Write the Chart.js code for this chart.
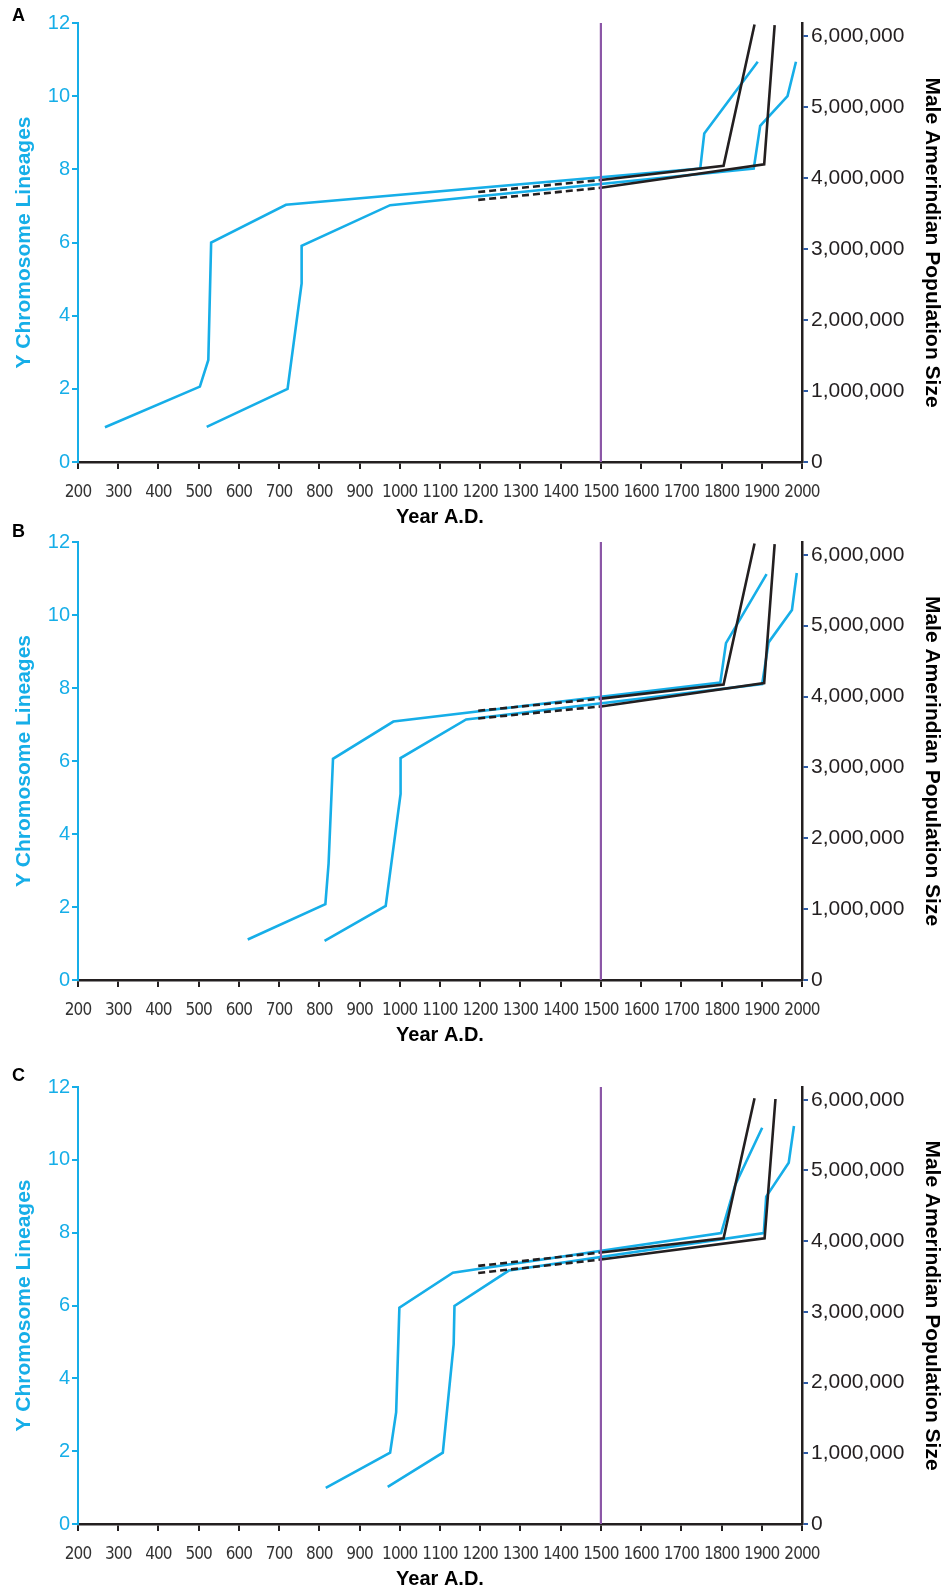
<!DOCTYPE html>
<html>
<head>
<meta charset="utf-8">
<script src="https://cdn.jsdelivr.net/npm/chart.js@4.4.1/dist/chart.umd.min.js"></script>
<style>
  html, body { margin: 0; padding: 0; background: #fff; overflow: hidden; }
  body { position: relative; width: 942px; height: 1591px; }
  canvas { position: absolute; left: 0; }
</style>
</head>
<body>
<canvas id="panelA" width="942" height="530" style="top:0px"></canvas>
<canvas id="panelB" width="942" height="530" style="top:518px"></canvas>
<canvas id="panelC" width="942" height="530" style="top:1062px"></canvas>
<script>
// year of contact, drawn as the purple line
const contactYear = 1500;

// tick values on the right axis
const popTicks = [0, 1000000, 2000000, 3000000, 4000000, 5000000, 6000000];

// [year, lineages] for the two Y chromosome curves, [year, males] for the population curves
const aLineage1 = [[267, 0.95], [503, 2.06], [524, 2.79], [531, 6.0], [717, 7.03], [1747, 8.02], [1757, 8.98], [1890, 10.94]];
const aLineage2 = [[520, 0.96], [721, 2.0], [756, 4.88], [756, 5.91], [976, 7.02], [1880, 8.02], [1896, 9.19], [1964, 10.0], [1985, 10.94]];
const aPop1 = [[1195, 3800000], [1500, 3970000], [1805, 4170000], [1882, 6160000]];
const aPop2 = [[1195, 3690000], [1500, 3860000], [1906, 4190000], [1932, 6150000]];

const bLineage1 = [[622, 1.11], [815, 2.08], [823, 3.19], [834, 6.06], [984, 7.08], [1797, 8.15], [1811, 9.23], [1912, 11.12]];
const bLineage2 = [[813, 1.07], [965, 2.03], [1002, 5.1], [1002, 6.08], [1165, 7.14], [1901, 8.11], [1917, 9.25], [1975, 10.14], [1987, 11.15]];
const bPop1 = [[1195, 3800000], [1500, 3970000], [1805, 4170000], [1882, 6160000]];
const bPop2 = [[1195, 3690000], [1500, 3860000], [1906, 4190000], [1932, 6150000]];

const cLineage1 = [[816, 0.99], [976, 1.96], [991, 3.07], [999, 5.94], [1132, 6.9], [1799, 7.99], [1834, 9.31], [1901, 10.88]];
const cLineage2 = [[970, 1.02], [1107, 1.96], [1134, 4.94], [1136, 5.99], [1271, 6.96], [1905, 7.99], [1911, 8.99], [1967, 9.92], [1980, 10.93]];
const cPop1 = [[1195, 3650000], [1500, 3840000], [1805, 4040000], [1882, 6020000]];
const cPop2 = [[1195, 3550000], [1500, 3740000], [1907, 4040000], [1934, 6010000]];

const CYAN = '#16aee8';
const BLACK = '#231f20';
const PURPLE = '#8b56a6';
const TICK_BLUE = '#2d5ba8';
const NARROW = '"Liberation Sans Narrow", "Arial Narrow", "DejaVu Sans Condensed", sans-serif';

Chart.defaults.font.family = '"Liberation Sans", Arial, sans-serif';

const toPts = arr => arr.map(([x, y]) => ({ x, y }));

// year labels are drawn in a later layer (ticks.z = 1); squeeze them a bit like the condensed original
const panelLetter = {
  id: 'panelLetter',
  afterDatasetsDraw(chart) {
    chart.ctx.letterSpacing = '-0.9px';
  },
  afterDraw(chart, args, opts) {
    const ctx = chart.ctx;
    ctx.letterSpacing = '0px';
    ctx.save();
    ctx.font = 'bold 18px "Liberation Sans", Arial, sans-serif';
    ctx.fillStyle = '#000';
    ctx.textBaseline = 'middle';
    ctx.fillText(opts.text, 12, opts.y);
    ctx.restore();
  }
};

function lineStyle(color) {
  return { borderColor: color, borderWidth: 2.6, pointRadius: 0, tension: 0, fill: false, borderJoinStyle: 'miter' };
}

function buildPanel(id, letter, letterY, topPad, lineage1, lineage2, pop1, pop2) {
  const dashBeforeContact = ctx => ctx.p1.parsed.x <= contactYear ? [7, 4] : undefined;
  return new Chart(document.getElementById(id), {
    type: 'line',
    data: {
      datasets: [
        { data: toPts([[contactYear, 0], [contactYear, 12]]), yAxisID: 'y', ...lineStyle(PURPLE), borderWidth: 2.2 },
        { data: toPts(pop1), yAxisID: 'pop', ...lineStyle(BLACK), segment: { borderDash: dashBeforeContact } },
        { data: toPts(pop2), yAxisID: 'pop', ...lineStyle(BLACK), segment: { borderDash: dashBeforeContact } },
        { data: toPts(lineage1), yAxisID: 'y', ...lineStyle(CYAN) },
        { data: toPts(lineage2), yAxisID: 'y', ...lineStyle(CYAN) }
      ]
    },
    plugins: [panelLetter],
    options: {
      responsive: false,
      animation: false,
      layout: { padding: { top: topPad, left: 0, right: 0, bottom: 0 } },
      plugins: {
        legend: { display: false },
        tooltip: { enabled: false },
        panelLetter: { text: letter, y: letterY }
      },
      scales: {
        x: {
          type: 'linear', min: 200, max: 2000,
          afterFit: s => { s.height = 68; },
          ticks: { stepSize: 100, autoSkip: false, maxRotation: 0, minRotation: 0, padding: 15, color: '#333', z: 1,
                   font: { family: NARROW, size: 17, lineHeight: 1 },
                   callback: v => String(v) },
          grid: { drawOnChartArea: false, tickLength: 7, color: BLACK, lineWidth: 2 },
          border: { color: BLACK, width: 2.5 },
          title: { display: true, text: 'Year A.D.', color: '#000',
                   font: { size: 20, weight: 'bold', lineHeight: 1 }, padding: { top: 0, bottom: 3 } }
        },
        y: {
          position: 'left', min: 0, max: 12,
          afterFit: s => { s.width = 78; },
          ticks: { stepSize: 2, color: CYAN, padding: 2, font: { size: 20 } },
          grid: { drawOnChartArea: false, tickLength: 6, color: CYAN, lineWidth: 2 },
          border: { color: CYAN, width: 2 },
          title: { display: true, text: 'Y Chromosome Lineages', color: CYAN,
                   font: { size: 21, weight: 'bold', lineHeight: 1 }, padding: { top: 14, bottom: 0 } }
        },
        pop: {
          position: 'right', min: 0, max: 6180000,
          afterFit: s => { s.width = 140; },
          afterBuildTicks: s => { s.ticks = popTicks.map(v => ({ value: v })); },
          ticks: { color: BLACK, padding: 3, font: { size: 21 },
                   callback: v => v.toLocaleString('en-US') },
          grid: { drawOnChartArea: false, tickLength: 6, color: TICK_BLUE, lineWidth: 2 },
          border: { color: BLACK, width: 2.5 },
          title: { display: true, text: 'Male Amerindian Population Size', color: '#000',
                   font: { size: 21, weight: 'bold', lineHeight: 1 }, padding: { top: 0, bottom: 0 } }
        }
      }
    }
  });
}

buildPanel('panelA', 'A', 16, 23, aLineage1, aLineage2, aPop1, aPop2);
buildPanel('panelB', 'B', 14, 24, bLineage1, bLineage2, bPop1, bPop2);
buildPanel('panelC', 'C', 14, 25, cLineage1, cLineage2, cPop1, cPop2);
</script>
</body>
</html>
